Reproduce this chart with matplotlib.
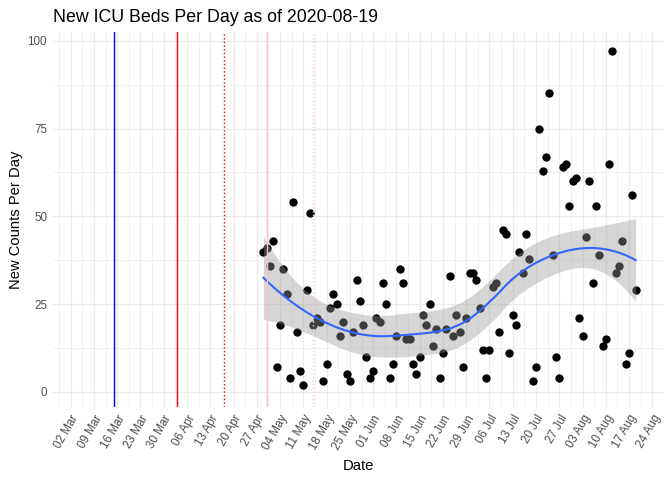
import numpy as np
import pandas as pd
import matplotlib
matplotlib.use('Agg')
import matplotlib.pyplot as plt
import matplotlib.dates as mdates

plt.rcParams['font.family'] = ['Liberation Sans', 'DejaVu Sans']

# daily new ICU beds, starting 2020-04-29
first_day = '2020-04-29'
icu_beds = [40, 41, 36, 43, 7, 19, 35, 28, 4, 54,
            17, 6, 2, 29, 51, 19, 21, 20, 3, 8,
            24, 28, 25, 16, 20, 5, 3, 17, 32, 26,
            19, 10, 4, 6, 21, 20, 31, 25, 4, 8,
            16, 35, 31, 15, 15, 8, 5, 10, 22, 19,
            25, 13, 18, 4, 11, 18, 33, 16, 22, 17,
            7, 21, 34, 34, 32, 24, 12, 4, 12, 30,
            31, 17, 46, 45, 11, 22, 19, 40, 34, 45,
            38, 3, 7, 75, 63, 67, 85, 39, 10, 4,
            64, 65, 53, 60, 61, 21, 16, 44, 60, 31,
            53, 39, 13, 15, 65, 97, 34, 36, 43, 8,
            11, 56, 29]

# reference lines (date, colour, style)
event_dates = ['2020-03-15', '2020-04-03', '2020-04-17', '2020-04-30', '2020-05-14']
event_colors = ['blue', 'red', 'red', 'pink', 'pink']
event_styles = ['-', '-', ':', '-', ':']

y_ticks = [0, 25, 50, 75, 100]


def loess(x, y, x_new, span=0.75):
    # local quadratic fit with tricube weights, like R's loess()
    n = len(x)
    q = int(np.floor(n * span))

    def rows(points):
        out = np.zeros((len(points), n))
        for i, x0 in enumerate(points):
            dist = np.abs(x - x0)
            h = np.sort(dist)[q - 1]
            w = np.clip(1 - (dist / h) ** 3, 0, None) ** 3
            X = np.column_stack([np.ones(n), x - x0, (x - x0) ** 2])
            XtW = X.T * w
            out[i] = np.linalg.solve(XtW @ X, XtW)[0]
        return out

    L = rows(x)
    resid = y - L @ y
    M = np.eye(n) - L
    one_delta = np.trace(M.T @ M)
    s = np.sqrt(np.sum(resid ** 2) / one_delta)
    Lp = rows(x_new)
    fit = Lp @ y
    se = s * np.sqrt(np.sum(Lp ** 2, axis=1))
    return fit, se


dates = pd.date_range(first_day, periods=len(icu_beds), freq='D')
x = mdates.date2num(dates.to_pydatetime())
y = np.array(icu_beds, dtype=float)

x_grid = np.linspace(x.min(), x.max(), 80)
fit, se = loess(x, y, x_grid)
t_val = 1.98

fig = plt.figure(figsize=(6.72, 4.8), dpi=100)
ax = fig.add_axes([0.0784, 0.1515, 0.9097, 0.7825])

base = mdates.date2num(pd.Timestamp('2020-03-02').to_pydatetime())
ax.set_xlim(base - 5.4, base + 178.0)
ax.set_ylim(-4.36, 102.6)

ax.scatter(x, y, s=36, color='black', zorder=3, linewidths=0)
ax.fill_between(x_grid, fit - t_val * se, fit + t_val * se, color='#999999', alpha=0.4, lw=0, zorder=4)
ax.plot(x_grid, fit, color='#3366FF', lw=1.5, zorder=5)

for d, c, ls in zip(event_dates, event_colors, event_styles):
    ax.axvline(mdates.date2num(pd.Timestamp(d).to_pydatetime()), color=c, linestyle=ls, lw=1.0, zorder=6)

major = pd.date_range('2020-03-02', '2020-08-24', freq='7D')
major_x = mdates.date2num(major.to_pydatetime())
minor_x = np.concatenate([[major_x[0] - 3.5], major_x + 3.5])
ax.set_xticks(major_x)
ax.set_xticks(minor_x, minor=True)
ax.set_xticklabels([d.strftime('%d %b') for d in major], rotation=60, ha='right',
                   va='top', rotation_mode='anchor', fontsize=8.4, color='#4D4D4D')
ax.set_yticks(y_ticks)
ax.set_yticks([12.5, 37.5, 62.5, 87.5], minor=True)
ax.set_yticklabels([str(v) for v in y_ticks], fontsize=8.4, color='#4D4D4D')

ax.grid(which='major', color='#EBEBEB', lw=0.9, zorder=0)
ax.grid(which='minor', color='#EBEBEB', lw=0.5, zorder=0)
ax.set_axisbelow(True)
ax.tick_params(which='both', length=0)
ax.tick_params(axis='x', pad=4)
ax.tick_params(axis='y', pad=4)
for sp in ax.spines.values():
    sp.set_visible(False)

ax.set_xlabel('Date', fontsize=10.6, labelpad=5)
ax.set_ylabel('New Counts Per Day', fontsize=10.6, labelpad=3)
ax.set_title('New ICU Beds Per Day as of 2020-08-19', fontsize=12.8, loc='left', pad=7)

fig.savefig('out.png', dpi=100)
